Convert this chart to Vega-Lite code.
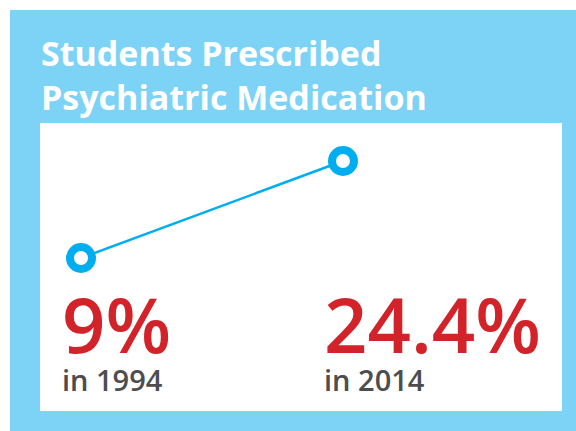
{
  "$schema": "https://vega.github.io/schema/vega-lite/v6.json",
  "width": 566,
  "height": 421,
  "autosize": "none",
  "padding": {"left": 10, "top": 10, "right": 0, "bottom": 0},
  "background": "white",
  "view": {"fill": "#7dd3f5", "stroke": null},
  "title": {
    "text": ["Students Prescribed", "Psychiatric Medication"],
    "anchor": "start",
    "frame": "group",
    "orient": "top",
    "baseline": "alphabetic",
    "offset": 0,
    "dx": 31,
    "dy": 134,
    "font": "Open Sans",
    "fontSize": 34,
    "fontWeight": "bold",
    "color": "white",
    "lineHeight": 44
  },
  "data": {
    "values": [
      {"year": 1994, "pct": 9, "label": "9%", "sub": "in 1994"},
      {"year": 2014, "pct": 24.4, "label": "24.4%", "sub": "in 2014"}
    ]
  },
  "layer": [
    {
      "mark": {"type": "rect", "color": "white"},
      "encoding": {
        "x": {"datum": 1990.87, "type": "quantitative", "scale": {"domain": [1988.58, 2031.786], "nice": false, "zero": false}, "axis": null},
        "x2": {"datum": 2030.717},
        "y": {"datum": 30.433, "type": "quantitative", "scale": {"domain": [-18.466, 48.373], "nice": false, "zero": false}, "axis": null},
        "y2": {"datum": -15.291}
      }
    },
    {
      "mark": {"type": "line", "color": "#00aeef", "strokeWidth": 2.5},
      "encoding": {
        "x": {"field": "year", "type": "quantitative"},
        "y": {"field": "pct", "type": "quantitative"}
      }
    },
    {
      "mark": {"type": "point", "filled": false, "fill": "white", "fillOpacity": 1, "stroke": "#00aeef", "strokeWidth": 8, "size": 484, "opacity": 1},
      "encoding": {
        "x": {"field": "year", "type": "quantitative"},
        "y": {"field": "pct", "type": "quantitative"}
      }
    },
    {
      "mark": {"type": "text", "align": "left", "baseline": "alphabetic", "dx": -19, "dy": 132.5, "font": "Open Sans", "fontSize": 76, "fontWeight": 600, "color": "#d2232a"},
      "encoding": {
        "x": {"field": "year", "type": "quantitative"},
        "text": {"field": "label"}
      }
    },
    {
      "mark": {"type": "text", "align": "left", "baseline": "alphabetic", "dx": -19, "dy": 170.5, "font": "Open Sans", "fontSize": 29, "fontWeight": 600, "color": "#4d4d4f"},
      "encoding": {
        "x": {"field": "year", "type": "quantitative"},
        "text": {"field": "sub"}
      }
    }
  ]
}
